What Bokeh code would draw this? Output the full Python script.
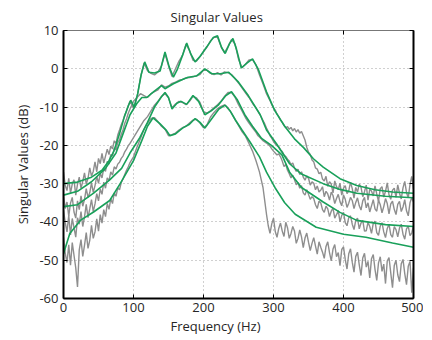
from bokeh.plotting import figure
from bokeh.models import LinearAxis, FixedTicker, Range1d, Title
from bokeh.embed import file_html
from bokeh.resources import INLINE

# ---------------- data ----------------
x_ticks = [0, 100, 200, 300, 400, 500]
y_ticks = [-60, -50, -40, -30, -20, -10, 0, 10]

# measured (gray) singular values in three frequency bands
# low band: 0 .. 95 Hz every 2.5 Hz
meas_1_low = [-27, -30.5, -31.8, -28.6, -32.5, -30.1, -29.0, -33.0, -30.2, -28.3,
              -31.2, -29.4, -27.2, -30.1, -28.6, -25.9, -28.0, -26.8, -24.3, -26.9,
              -23.4, -24.8, -22.1, -24.6, -22.8, -21.0, -22.4, -20.2, -20.9, -18.8,
              -19.5, -17.3, -16.0, -14.6, -13.5, -12.1, -11.0, -9.6, -8.5]
meas_2_low = [-33, -36.5, -34.8, -38.5, -35.1, -33.6, -37.4, -39.0, -34.5, -36.8,
              -33.2, -35.9, -34.1, -31.3, -33.6, -32.4, -29.8, -32.3, -30.5, -28.1,
              -29.9, -27.3, -28.5, -26.0, -26.8, -24.2, -24.9, -22.4, -22.8, -20.7,
              -21.2, -19.3, -18.6, -17.1, -16.0, -14.2, -13.1, -11.6, -10.5]
meas_3_low = [-37, -40.2, -42.6, -38.3, -43.4, -39.1, -41.5, -44.0, -38.9, -40.6,
              -37.3, -41.2, -38.7, -35.4, -38.9, -36.6, -34.2, -37.3, -35.3, -32.6,
              -34.5, -31.4, -32.8, -29.6, -31.2, -28.5, -29.3, -26.9, -27.8, -25.6,
              -26.2, -24.9, -24.4, -23.4, -22.8, -21.7, -21.0, -20.1, -19.5]
meas_4_low = [-44, -48.2, -50.6, -46.0, -51.3, -45.4, -48.7, -52.0, -57.0, -47.3,
              -44.6, -49.0, -46.1, -42.8, -46.9, -44.8, -40.9, -44.3, -42.6, -39.2,
              -42.4, -38.1, -40.3, -36.8, -38.6, -35.2, -36.7, -33.9, -35.2, -32.4,
              -33.3, -31.1, -31.6, -29.7, -28.8, -27.6, -26.5, -25.6, -24.5]
# mid band: 100 .. 275 Hz every 5 Hz
meas_1_mid = [-10.3, -7.5, -2.3, 1.5, -0.5, -1.2, -1.6, -0.8, 0.8, 4,
              0.8, -2.0, 0, 2, 3.5, 6.4, 4.8, 2.2, 2, 3.2,
              4.5, 5.7, 7.3, 8.2, 8.3, 5.8, 4.2, 5.8, 7.6, 6.5,
              2.5, 0.3, 1.2, 2.3, 2.4, 1]
meas_2_mid = [-8.5, -7.5, -6.5, -7, -7.5, -6.5, -6, -5.5, -4.2, -4.8,
              -4.5, -3.8, -3.5, -3, -2.8, -2.4, -2.3, -2.1, -1.8, -1.5,
              -0.3, -0.4, -1.2, -1.5, -1.0, -1.6, -0.8, -1.0, -1.5, -2.5,
              -3.7, -5, -6.3, -7.5, -9, -10.3]
meas_3_mid = [-18, -16.5, -15, -13.5, -12.5, -11, -9.5, -8.5, -7.2, -6.5,
              -7.6, -10.2, -9.2, -8.5, -8.8, -9.4, -8.5, -7.2, -7.6, -8.8,
              -11.2, -11.6, -11, -10.2, -9.4, -8.5, -7.2, -6.2, -6.2, -7.4,
              -9.4, -11, -12.8, -14.2, -15.4, -16.6]
meas_4_mid = [-23, -20.5, -18.2, -15.8, -14.2, -13, -12.8, -13.8, -15, -15.8,
              -17.5, -17.2, -16.8, -16, -15.4, -15, -14.2, -13.4, -13.2, -14.2,
              -15.4, -14.6, -12.6, -11.4, -10.4, -9.8, -9.4, -10.2, -11.6, -13.2,
              -14.8, -16.4, -17.6, -19.5, -21.5, -24]
# high band: 277.5 .. 500 Hz every 2.5 Hz
meas_1_high = [-0.3, -1.6, -2.8, -4, -5.2, -6.5, -7.4, -8.3, -9.4, -10.2,
               -10.8, -11.8, -12.5, -13.4, -14, -14.8, -15.4, -15.1, -15.8, -15.3,
               -16.2, -15.6, -16.5, -15.9, -16.8, -16.4, -17.5, -18.6, -20.5, -21.8,
               -22.4, -23.8, -24.3, -25.9, -26.2, -27.4, -27.0, -28.8, -29.3, -28.1,
               -30.7, -29.5, -30.1, -32.4, -29.3, -30.8, -31.6, -29.9, -33.0, -31.2,
               -30.5, -32.6, -31.9, -29.6, -31.3, -33.8, -31.0, -32.2, -30.1, -30.9,
               -33.4, -32.1, -30.4, -34.3, -31.5, -31.9, -33.2, -30.6, -32.7, -34.6,
               -31.3, -30.8, -33.5, -32.0, -29.8, -32.9, -34.1, -31.7, -31.2, -33.6,
               -30.3, -32.5, -34.0, -31.1, -29.4, -32.3, -33.7, -30.2, -28.1, -31.4]
meas_2_high = [-11.0, -11.8, -12.6, -13.5, -14.4, -15.5, -16.4, -17.5, -18.1, -19.0,
               -19.6, -20.1, -20.4, -21.2, -21.6, -22.5, -22.9, -23.6, -24.1, -25.0,
               -24.6, -25.9, -26.8, -26.2, -27.6, -26.9, -28.3, -29.1, -28.0, -28.6,
               -30.4, -29.5, -29.9, -31.6, -30.6, -32.2, -31.7, -30.8, -33.4, -32.0,
               -32.7, -34.3, -32.2, -33.1, -35.2, -33.9, -32.8, -34.7, -35.8, -33.0,
               -34.1, -36.2, -35.1, -33.6, -34.4, -36.5, -34.9, -33.7, -35.8, -36.9,
               -34.5, -33.6, -36.3, -35.0, -37.4, -35.8, -34.2, -36.6, -37.2, -34.3,
               -35.5, -37.6, -36.0, -33.9, -35.2, -37.9, -35.3, -34.6, -36.7, -38.1,
               -35.4, -34.6, -37.3, -36.1, -34.2, -37.1, -38.4, -35.0, -33.6, -34.8]
meas_3_high = [-17.4, -17.8, -18.3, -18.8, -19.1, -19.4, -19.8, -20.2, -20.9, -21.5,
               -22.0, -22.5, -22.2, -23.0, -24.1, -25.5, -25.0, -26.5, -27.4, -28.5,
               -27.8, -29.0, -30.3, -29.7, -31.2, -30.5, -32.4, -33.0, -31.6, -32.8,
               -34.1, -33.4, -33.9, -35.5, -36.5, -34.6, -35.0, -36.8, -37.5, -35.9,
               -36.6, -38.6, -37.2, -36.4, -39.0, -38.1, -37.0, -40.0, -38.3, -37.5,
               -40.2, -41.0, -38.9, -38.4, -40.6, -42.0, -39.6, -39.0, -41.8, -40.3,
               -39.6, -42.4, -42.3, -40.1, -41.2, -43.0, -40.4, -39.8, -42.8, -43.5,
               -41.1, -40.2, -42.6, -44.1, -41.7, -40.6, -43.3, -44.0, -41.2, -42.0,
               -43.9, -41.6, -40.6, -43.2, -44.5, -41.8, -41.1, -43.6, -42.9, -41.0]
meas_4_high = [-25.5, -27.0, -29.0, -31.0, -34.5, -38.0, -41.0, -43.0, -40.5, -39.0,
               -42.5, -44.0, -41.7, -40.3, -42.4, -43.8, -40.1, -41.5, -44.3, -43.0,
               -41.2, -42.4, -45.6, -44.3, -42.1, -43.9, -46.7, -44.2, -42.9, -45.3,
               -47.5, -45.6, -44.1, -46.3, -48.4, -45.2, -46.6, -47.9, -49.5, -46.4,
               -45.2, -48.0, -50.2, -47.1, -45.9, -49.1, -48.0, -51.4, -47.2, -46.5,
               -49.8, -52.3, -48.3, -47.0, -50.5, -53.1, -49.0, -47.9, -51.2, -54.0,
               -49.4, -48.2, -51.8, -50.3, -54.6, -49.6, -48.5, -52.4, -55.3, -50.7,
               -49.1, -52.9, -51.0, -56.1, -50.2, -49.3, -53.3, -57.2, -51.4, -50.0,
               -53.8, -55.6, -50.9, -49.8, -53.5, -56.4, -51.6, -50.3, -58.5, -52.0]

# model (green) singular values
freq_m1 = [0, 20, 40, 55, 65, 72, 80, 87, 92, 96, 101, 106, 111, 116, 122, 130, 138, 145, 151, 157, 163, 170, 176, 182, 188,
           195, 205, 214, 220, 226, 231, 237, 242, 247, 254, 262, 270, 278, 290, 302, 316, 330, 343, 357, 371, 395, 419, 445, 470, 500]
model_1 = [-30, -29.6, -28.3, -26.5, -24, -21.5, -17, -12.5, -10, -8.2, -10, -6.5, -1.5, 1.8, -0.9, -1.1, -0.6, 4.4, 0.5, -2.2,
           0, 3.5, 6.7, 3.8, 1.8, 3.2, 5.8, 8.2, 8.6, 5.5, 4, 6.5, 7.9, 5.2, 0.2, 1.5, 2.6, 0, -6, -11, -15, -18.3, -20.6, -23.5,
           -25.7, -28.7, -30.5, -31.6, -32.2, -32.5]
freq_m2 = [0, 20, 40, 60, 75, 85, 95, 105, 112, 119, 128, 140, 145, 157, 170, 178, 190, 202, 212, 224, 236, 250, 264, 281,
           290, 304, 323, 340, 371, 395, 419, 460, 500]
model_2 = [-33, -32, -29.5, -26, -22, -17, -12, -9, -7.5, -7.5, -6.1, -4.4, -5.2, -3.9, -2.8, -2.2, -1.9, 0, -1.3, -1.3,
           -0.9, -3.5, -7, -12, -16, -19.5, -24.8, -27.5, -30, -31.5, -32.5, -33.3, -33.7]
freq_m3 = [0, 20, 43, 66, 83, 95, 109, 120, 130, 140, 145, 150, 155, 162, 168, 176, 185, 193, 202, 211, 221, 232, 240, 248,
           259, 270, 283, 297, 312, 323, 340, 371, 395, 419, 460, 500]
model_3 = [-36, -35.5, -32.5, -29, -26, -22, -18, -14, -10, -7.3, -6.2, -7.5, -10.5, -9, -8.5, -9.3, -7, -8.5, -12, -11,
           -9.5, -7, -6, -8, -12, -15, -18.2, -20, -22.5, -27, -31, -34.8, -37.5, -39.6, -40.7, -41.2]
freq_m4 = [0, 9, 24, 43, 66, 81, 100, 112, 120, 128, 138, 147, 152, 160, 170, 180, 188, 195, 202, 212, 222, 231, 238, 246,
           255, 266, 280, 290, 302, 316, 331, 361, 400, 432, 470, 500]
model_4 = [-48.3, -43, -39.6, -37.4, -34.4, -30, -24, -18.7, -15, -12.8, -14.4, -16.1, -17.5, -17, -15.5, -14.5, -13, -14,
           -15.5, -13, -10.5, -9.5, -11, -13.5, -16, -19, -23, -27, -31, -35, -38, -41.4, -43.2, -44, -45.5, -46.6]


def band(start, step, n):
    return [start + step * i for i in range(n)]


def measured(low, mid, high):
    f = band(0, 2.5, len(low)) + band(100, 5, len(mid)) + band(277.5, 2.5, len(high))
    return f, low + mid + high


# ---------------- figure ----------------
FONT = "Open Sans"
TXT = "#262626"

p = figure(frame_width=350, frame_height=268, output_backend="svg", toolbar_location=None,
           x_range=Range1d(0, 500), y_range=Range1d(-60, 10),
           min_border_left=63, min_border_right=10, min_border_top=30, min_border_bottom=34,
           y_axis_label="Singular Values (dB)")
p.background_fill_color = "white"
p.border_fill_color = "white"
p.outline_line_color = None

for ax in (p.xaxis[0], p.yaxis[0]):
    ax.axis_line_color = "black"
    ax.axis_line_width = 2
    ax.major_tick_in = 4
    ax.major_tick_out = 0
    ax.minor_tick_line_color = None
    ax.major_tick_line_color = "black"
    ax.major_label_text_font = FONT
    ax.major_label_text_font_size = "13px"
    ax.major_label_text_color = TXT
    ax.axis_label_text_font = FONT
    ax.axis_label_text_font_size = "13px"
    ax.axis_label_text_font_style = "normal"
    ax.axis_label_text_color = TXT

p.xaxis[0].ticker = FixedTicker(ticks=x_ticks)
p.yaxis[0].ticker = FixedTicker(ticks=y_ticks)
p.xaxis[0].major_label_overrides = {t: str(t) for t in x_ticks}
p.yaxis[0].major_label_overrides = {t: str(t) for t in y_ticks}
p.xaxis[0].major_label_standoff = 4
p.yaxis[0].major_label_standoff = 5
p.yaxis[0].axis_label_standoff = 4

right = LinearAxis(ticker=FixedTicker(ticks=y_ticks), major_label_text_font_size="0px",
                   axis_line_color="black", axis_line_width=2, major_tick_in=4, major_tick_out=0,
                   minor_tick_line_color=None, major_label_standoff=0)
top = LinearAxis(ticker=FixedTicker(ticks=x_ticks), major_label_text_font_size="0px",
                 axis_line_color="#777777", axis_line_width=1, major_tick_in=4, major_tick_out=0,
                 minor_tick_line_color=None, major_label_standoff=0)
p.add_layout(right, "right")
p.add_layout(top, "above")

title = Title(text="Singular Values", align="left", offset=107, text_font=FONT, text_font_size="13px",
              text_font_style="normal", text_color=TXT, standoff=9)
p.add_layout(title, "above")
xlabel = Title(text="Frequency (Hz)", align="left", offset=107, text_font=FONT, text_font_size="13px",
               text_font_style="normal", text_color=TXT, standoff=0)
p.add_layout(xlabel, "below")

p.grid.grid_line_color = "#a0a0a0"
p.grid.grid_line_dash = "1 3"
p.grid.grid_line_width = 1
p.xgrid.ticker = FixedTicker(ticks=x_ticks)
p.ygrid.ticker = FixedTicker(ticks=y_ticks)

GRAY = "#8e8e8e"
GREEN = "#19a05a"
for lo, mi, hi in ((meas_1_low, meas_1_mid, meas_1_high), (meas_2_low, meas_2_mid, meas_2_high),
                   (meas_3_low, meas_3_mid, meas_3_high), (meas_4_low, meas_4_mid, meas_4_high)):
    fx, vals = measured(lo, mi, hi)
    p.line(fx, vals, line_color=GRAY, line_width=1.4)
for fx, m in ((freq_m1, model_1), (freq_m2, model_2), (freq_m3, model_3), (freq_m4, model_4)):
    p.line(fx, m, line_color=GREEN, line_width=1.6)

open("out.html", "w").write(file_html(p, INLINE))
